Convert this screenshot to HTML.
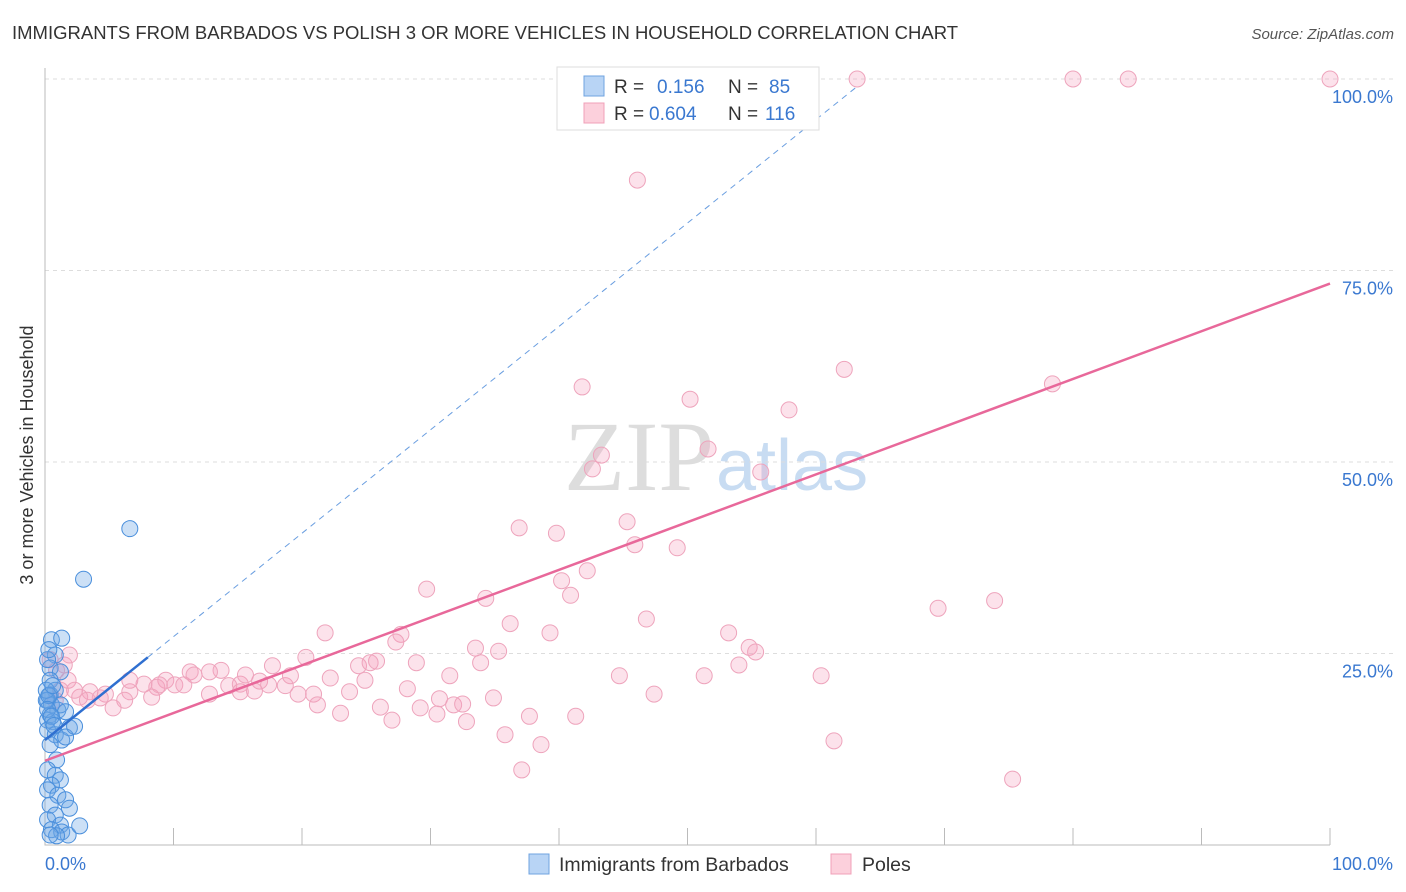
<!DOCTYPE html>
<html><head><meta charset="utf-8"><style>
body{margin:0;background:#fff;font-family:"Liberation Sans",sans-serif}
svg{display:block}
</style></head><body>
<svg id="chart" width="1406" height="892">
<text x="12" y="39" font-size="18.5" fill="#333">IMMIGRANTS FROM BARBADOS VS POLISH 3 OR MORE VEHICLES IN HOUSEHOLD CORRELATION CHART</text>
<text x="1394" y="39" font-size="15" fill="#555" text-anchor="end" font-style="italic">Source: ZipAtlas.com</text>
<text x="714" y="490" font-size="100" fill="#ddd" text-anchor="end" font-family="Liberation Serif">ZIP</text>
<text x="716" y="490" font-size="72" fill="#c8dcf2">atlas</text>
<text transform="translate(33,455) rotate(-90)" font-size="18" fill="#333" text-anchor="middle">3 or more Vehicles in Household</text>
<g id="grid"></g><g id="pts"></g><g id="lines"></g>
<g>
<rect x="557" y="67" width="262" height="63" fill="#fff" stroke="#ddd"/>
<rect x="584" y="76" width="20" height="20" fill="#b8d4f5" stroke="#6fa3e0"/>
<rect x="584" y="103" width="20" height="20" fill="#fcd0dc" stroke="#f0a0b8"/>
<text x="614" y="93" font-size="19" fill="#333">R = <tspan fill="#3a78d0" x="657">0.156</tspan><tspan x="728" fill="#333">N = </tspan><tspan fill="#3a78d0" x="769">85</tspan></text>
<text x="614" y="120" font-size="19" fill="#333">R = <tspan fill="#3a78d0" x="649">0.604</tspan><tspan x="728" fill="#333">N = </tspan><tspan fill="#3a78d0" x="765">116</tspan></text>
</g>
<g>
<rect x="529" y="854" width="20" height="20" fill="#b8d4f5" stroke="#6fa3e0"/>
<text x="559" y="871" font-size="19.5" fill="#333">Immigrants from Barbados</text>
<rect x="831" y="854" width="20" height="20" fill="#fcd0dc" stroke="#f0a0b8"/>
<text x="862" y="871" font-size="19.5" fill="#333">Poles</text>
</g>
</svg>
<script>
const yTicks=[25,50,75,100];
const yTickLabels=["25.0%","50.0%","75.0%","100.0%"];
const xTicks=[10,20,30,40,50,60,70,80,90,100];
const blueX=[6.6,3.0,0.5,1.3,0.8,0.4,1.2,0.4,0.8,0.4,0.2,0.5,1.0,0.4,0.2,0.6,1.2,1.6,0.2,0.8,1.3,1.9,1.6,2.3,0.4,0.9,0.2,0.8,1.2,0.5,0.2,1.0,1.6,0.4,1.9,0.8,0.2,1.2,0.5,1.3,1.8,0.9,2.7,0.4,0.1,0.1,0.2,0.3,0.3,0.6,0.2,0.5,0.7];
const blueY=[41.3,34.7,26.8,27.0,24.8,23.1,22.6,21.5,20.2,19.6,18.9,18.3,17.6,17.0,16.3,16.1,18.3,17.4,15.0,14.4,13.7,15.3,14.1,15.5,13.1,11.1,9.8,9.1,8.5,7.8,7.2,6.5,5.9,5.2,4.8,3.9,3.3,2.6,2.0,1.7,1.3,1.2,2.5,1.3,18.9,20.2,24.2,25.5,19.5,20.8,17.7,16.8,15.6];
const pinkX=[63.2,80.0,84.3,100,52.4,46.1,41.8,50.2,62.2,57.9,78.4,43.3,42.6,51.6,55.7,36.9,39.8,45.3,45.9,49.2,42.2,40.2,40.9,29.7,34.3,36.2,39.3,46.8,53.2,54.8,55.3,54.0,69.5,73.9,27.7,27.3,21.8,20.3,17.7,13.7,11.3,9.4,10.1,10.8,8.7,7.7,6.6,4.7,3.5,2.7,4.3,6.2,8.3,12.8,14.3,15.2,16.7,15.2,16.3,18.7,19.1,19.7,20.9,21.2,22.2,23.7,24.4,25.3,25.8,24.9,26.1,27.0,28.2,28.9,29.2,30.5,30.7,31.5,31.8,32.5,32.8,33.5,33.9,34.9,35.3,35.8,37.1,37.7,38.6,41.3,44.7,47.4,51.3,60.4,61.4,75.3,12.8,11.6,5.3,1.5,1.8,1.2,0.8,2.3,3.3,0.4,0.9,1.9,6.6,8.9,15.6,17.4,23.0];
const pinkY=[100,100,100,100,100,86.8,59.8,58.2,62.1,56.8,60.2,50.9,49.1,51.7,48.7,41.4,40.7,42.2,39.2,38.8,35.8,34.5,32.6,33.4,32.2,28.9,27.7,29.5,27.7,25.8,25.2,23.5,30.9,31.9,27.5,26.5,27.7,24.5,23.4,22.8,22.6,21.5,20.9,20.9,20.6,21.0,20.0,19.7,20.0,19.3,19.2,18.9,19.3,19.7,20.8,21.0,21.4,20.0,20.1,20.8,22.1,19.7,19.7,18.3,21.8,20.0,23.4,23.8,24.0,21.5,18.0,16.3,20.4,23.8,17.9,17.1,19.1,22.1,18.3,18.4,16.1,25.7,23.8,19.2,25.3,14.4,9.8,16.8,13.1,16.8,22.1,19.7,22.1,22.1,13.6,8.6,22.6,22.2,17.9,23.5,21.5,20.2,18.9,20.2,18.9,24.2,22.8,24.8,21.5,20.9,22.2,20.9,17.2];
const blueTrend=[13.7,1.35];
const pinkTrend=[11.0,0.623];
const X=v=>45+v*12.85, Y=v=>845-v*7.66;
const NS="http://www.w3.org/2000/svg";
function mk(t,a,p){const e=document.createElementNS(NS,t);for(const k in a)e.setAttribute(k,a[k]);p.appendChild(e);return e;}
const grid=document.getElementById('grid');
yTicks.forEach((t,i)=>{
 const l=mk('line',{x1:45,x2:1393,y1:Y(t),y2:Y(t),stroke:'#ddd','stroke-dasharray':'4,4'},grid);
 
 
 const tx=mk('text',{x:1393,y:Y(t)+24,'font-size':18,fill:'#3a78d0','text-anchor':'end'},grid);
 tx.textContent=yTickLabels[i];
 
 
});
const ax=mk('path',{d:'M45 68V845H1330',stroke:'#bbb',fill:'none'},grid);


xTicks.forEach(t=>{
 const l=mk('line',{x1:X(t),x2:X(t),y1:828,y2:845,stroke:'#bbb'},grid);
 
 
});
const x0=mk('text',{x:45,y:870,'font-size':18,fill:'#3a78d0'},grid);x0.textContent='0.0%';


const x1=mk('text',{x:1393,y:870,'font-size':18,fill:'#3a78d0','text-anchor':'end'},grid);x1.textContent='100.0%';


const pts=document.getElementById('pts');
pinkX.forEach((v,i)=>{
 const c=mk('circle',{cx:X(v),cy:Y(pinkY[i]),r:8,fill:'rgba(244,160,188,0.3)',stroke:'#eea4bc','stroke-width':1},pts);
 
 
});
blueX.forEach((v,i)=>{
 const c=mk('circle',{cx:X(v),cy:Y(blueY[i]),r:8,fill:'rgba(110,165,230,0.35)',stroke:'#4a8fdc','stroke-width':1},pts);
 
 
});
const lines=document.getElementById('lines');
const bd=mk('line',{x1:X(8),y1:Y(blueTrend[0]+8*blueTrend[1]),x2:X(63.2),y2:Y(blueTrend[0]+63.2*blueTrend[1]),stroke:'#6a9ee0','stroke-dasharray':'6,5','stroke-width':1},lines);


const bs=mk('line',{x1:X(0),y1:Y(blueTrend[0]),x2:X(8),y2:Y(blueTrend[0]+8*blueTrend[1]),stroke:'#2f6fd0','stroke-width':2.5},lines);


const pl=mk('line',{x1:X(0),y1:Y(pinkTrend[0]),x2:X(100),y2:Y(pinkTrend[0]+100*pinkTrend[1]),stroke:'#e8689a','stroke-width':2.5},lines);


</script>
</body></html>
